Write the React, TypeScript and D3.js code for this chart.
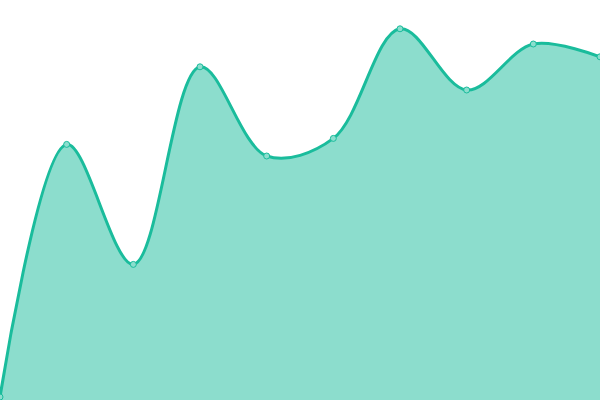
import React from "react";
import * as d3 from "d3";

const xIndex = [0, 1, 2, 3, 4, 5, 6, 7, 8, 9];
const values = [0.75, 63.9, 33.9, 83.3, 61, 65.4, 92.8, 77.5, 89, 85.8];

const width = 600;
const height = 400;

export default function App() {
  const x = d3.scaleLinear().domain([0, xIndex.length - 1]).range([0, width]);
  const y = d3.scaleLinear().domain([0, 100]).range([height, 0]);

  const pts: [number, number][] = xIndex.map((d, i) => [d, values[i]]);

  const area = d3.area<[number, number]>()
    .x(d => x(d[0]))
    .y0(height)
    .y1(d => y(d[1]))
    .curve(d3.curveCatmullRom);

  const line = d3.line<[number, number]>()
    .x(d => x(d[0]))
    .y(d => y(d[1]))
    .curve(d3.curveCatmullRom);

  return (
    <svg
      width={width}
      height={height}
      style={{ position: "absolute", left: 0, top: 0, display: "block" }}
    >
      <path d={area(pts) || ""} fill="#1abc9c" fillOpacity={0.5} />
      <path d={line(pts) || ""} fill="none" stroke="#1abc9c" strokeWidth={3} />
      {pts.map((d, i) => (
        <circle
          key={i}
          cx={x(d[0])}
          cy={y(d[1])}
          r={3}
          fill="#8cdece"
          stroke="#1abc9c"
          strokeWidth={1}
        />
      ))}
    </svg>
  );
}
